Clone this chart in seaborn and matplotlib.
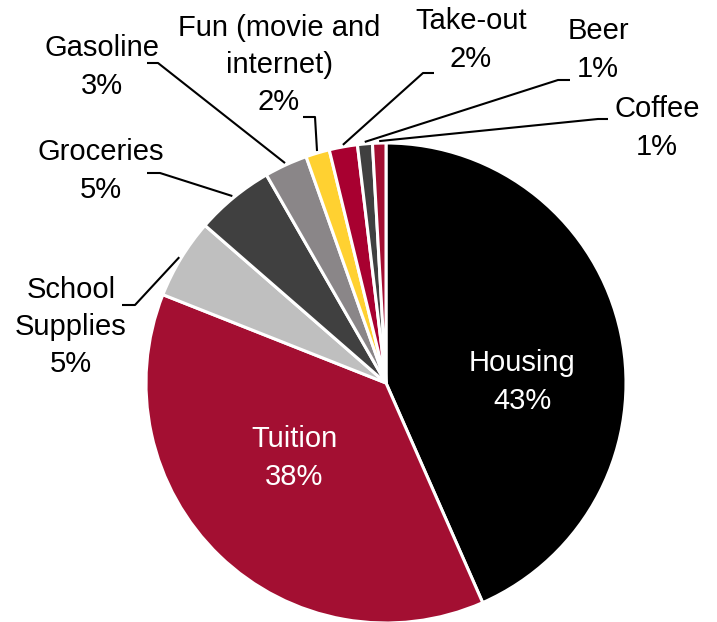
import matplotlib
matplotlib.use("Agg")
import matplotlib.pyplot as plt
import numpy as np
import seaborn as sns

# --- Data (shares of monthly student budget, %) ---
categories = [
    "Housing", "Tuition", "School\nSupplies", "Groceries", "Gasoline",
    "Fun (movie and\ninternet)", "Take-out", "Beer", "Coffee",
]
shares = [43.4, 37.6, 5.4, 5.3, 2.9, 1.6, 1.9, 1.0, 0.9]
colors = [
    "#000000", "#A30F32", "#BFBFBF", "#404040", "#8A8688",
    "#FFD131", "#A80030", "#404040", "#A30F32",
]

W, H = 717, 622
CX, CY, R = 386, 383, 240

# label positions (pixel, from top) and leader elbows for outside labels
inside_pos = {0: (522, 382), 1: (294, 458)}
outside = {
    2: ((71, 327), [(122, 305), (135, 305)]),
    3: ((101, 171), [(147, 173), (160, 173)]),
    4: ((102, 67), [(147, 63), (158, 63)]),
    5: ((279, 65), [(303, 117), (315, 117)]),
    6: ((471, 40), [(434, 73), (423, 73)]),
    7: ((598, 50), [(570, 80), (558, 80)]),
    8: ((657, 128), [(608, 119), (598, 119)]),
}

sns.set_theme(style="white")
plt.rcParams["font.family"] = ["Liberation Sans", "DejaVu Sans"]

fig = plt.figure(figsize=(W / 100, H / 100), dpi=100)
ax = fig.add_axes([0, 0, 1, 1])

wedges, _ = ax.pie(
    shares, colors=colors, startangle=90, counterclock=False,
    center=(CX, H - CY), radius=R,
    wedgeprops=dict(edgecolor="white", linewidth=2.2),
)
ax.set_xlim(0, W)
ax.set_ylim(0, H)
ax.set_aspect("equal")
ax.axis("off")

labels = [f"{c}\n{round(v)}%" for c, v in zip(categories, shares)]
fs = 21
ls = 1.42

for i, (x, y) in inside_pos.items():
    ax.text(x, H - y, labels[i], ha="center", va="center", color="white",
            fontsize=fs, linespacing=ls, multialignment="center")

for i, ((x, y), elbow) in outside.items():
    ax.text(x, H - y, labels[i], ha="center", va="center", color="black",
            fontsize=fs, linespacing=ls, multialignment="center")
    w = wedges[i]
    mid = np.deg2rad((w.theta1 + w.theta2) / 2)
    px = CX + (R + 2) * np.cos(mid)
    py = (H - CY) + (R + 2) * np.sin(mid)
    xs = [elbow[0][0], elbow[1][0], px]
    ys = [H - elbow[0][1], H - elbow[1][1], py]
    ax.plot(xs, ys, color="black", lw=1.5, solid_capstyle="butt")

fig.savefig("out.png", dpi=100)
